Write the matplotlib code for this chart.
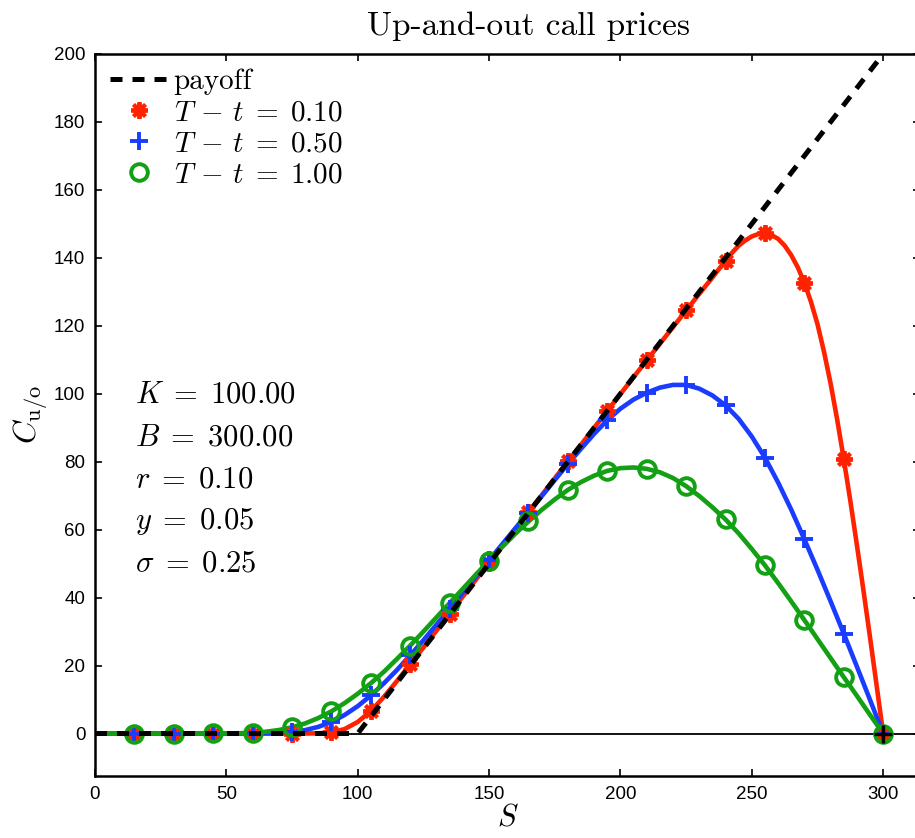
import matplotlib
matplotlib.use("Agg")
import matplotlib.pyplot as plt
import numpy as np

plt.rcParams['mathtext.fontset'] = 'cm'

#%% DATA
S = np.arange(0, 301, 5)
S_red = np.concatenate([np.arange(0, 240, 5), np.arange(240, 300.1, 2.5)])

# T - t = 0.10 (finer step past S = 240)
C_010 = [0, 0, 0, 0, 0, 0, 0, 0, 0, 0, 0, 0, 0, 0, 0, 0.0, 0.01, 0.06,
         0.35, 1.3, 3.4, 6.6, 10.8, 15.5, 20.4, 25.3, 30.3, 35.3, 40.3, 45.3,
         50.3, 55.2, 60.2, 65.2, 70.1, 75.1, 80.1, 85.0, 90.0, 95.0, 99.9,
         104.9, 109.8, 114.7, 119.6, 124.5, 129.4, 134.2,
         139.2, 141.5, 143.6, 145.1, 146.3, 147.0, 147.2, 146.7, 145.6, 143.6,
         140.8, 137.2, 132.7, 127.1, 120.5, 112.3, 103.0, 92.4, 80.8, 68.5,
         55.5, 42.1, 28.3, 14.2, 0]
# T - t = 0.50
C_050 = [0, 0, 0, 0, 0, 0, 0, 0, 0, 0, 0, 0, 0.01, 0.05, 0.17, 0.44, 1.0,
         1.96, 3.4, 5.45, 8.05, 11.2, 14.8, 18.75, 23.0, 27.45, 32.05, 36.7,
         41.4, 46.2, 51.0, 55.7, 60.4, 65.0, 69.8, 74.6, 79.3, 83.8, 88.2,
         92.2, 95.6, 98.3, 100.3, 101.8, 102.6, 102.6, 101.5, 99.5, 96.6, 92.6,
         87.4, 81.2, 73.9, 65.9, 57.2, 48.2, 38.9, 29.4, 19.7, 9.9, 0]
# T - t = 1.00
C_100 = [0, 0, 0, 0, 0, 0, 0, 0, 0, 0.02, 0.03, 0.09, 0.23, 0.52, 1.03,
         1.83, 2.98, 4.55, 6.54, 8.94, 11.7, 14.8, 18.2, 22.0, 25.9, 30.0,
         34.2, 38.4, 42.6, 46.8, 50.9, 54.9, 58.8, 62.4, 65.8, 68.9, 71.7,
         74.0, 75.9, 77.3, 78.1, 78.3, 77.9, 76.9, 75.2, 72.8, 69.9, 66.6,
         63.0, 58.9, 54.3, 49.5, 44.3, 38.9, 33.4, 27.8, 22.2, 16.6, 11.1,
         5.5, 0]

# marker points every 15
S_mk = np.arange(15, 301, 15)
mk_010 = [0, 0, 0, 0, 0.0, 0.35, 6.6, 20.4, 35.3, 50.3, 65.2, 80.1, 95.0,
          109.8, 124.5, 139.2, 147.2, 132.7, 80.8, 0]
mk_050 = [0, 0, 0, 0.01, 0.44, 3.4, 11.2, 23.0, 36.7, 51.0, 65.0, 79.3, 92.2,
          100.3, 102.6, 96.6, 81.2, 57.2, 29.4, 0]
mk_100 = [0, 0, 0.02, 0.23, 1.83, 6.54, 14.8, 25.9, 38.4, 50.9, 62.4, 71.7,
          77.3, 77.9, 72.8, 63.0, 49.5, 33.4, 16.6, 0]

payoff_S = [0, 100, 300]
payoff_V = [0, 0, 200]

params = [r'$K\;=\;100.00$', r'$B\;=\;300.00$', r'$r\;=\;0.10$',
          r'$y\;=\;0.05$', r'$\sigma\;=\;0.25$']

series = [(S_red, C_010, mk_010, '#ff2200', (8, 2, 0), 12, r'$T\,-\,t\;=\;0.10$'),
          (S, C_050, mk_050, '#1a3cff', '+', 13, r'$T\,-\,t\;=\;0.50$'),
          (S, C_100, mk_100, '#14a014', 'o', 12, r'$T\,-\,t\;=\;1.00$')]

#%% FIGURE
fig = plt.figure(figsize=(9.15, 8.38), dpi=100)
ax = fig.add_axes([0.1038, 0.074, 0.9016, 0.8616])

ax.axhline(0, color='black', lw=1.3, zorder=1)

handles = []
for xs, vals, mks, col, mk, ms, lab in series:
    ax.plot(xs, vals, '-', color=col, lw=3.3, zorder=2)
    h, = ax.plot(S_mk, mks, linestyle='none', marker=mk, ms=ms,
                 mec=col, mfc='none', mew=2.8, color=col, label=lab, zorder=3)
    handles.append(h)

pay, = ax.plot(payoff_S, payoff_V, '--', color='black', lw=3.6,
               dashes=(2.4, 2.0), label='payoff', zorder=4)
ax.plot(300, 0, '+', color='black', ms=13, mew=2.4, zorder=5)

ax.legend(handles=[pay] + handles, loc='upper left', frameon=False,
          prop={'family': 'cmr10', 'size': 21}, handlelength=2.0,
          handletextpad=0.2, labelspacing=0.16, borderaxespad=0.3,
          borderpad=0.2)

for i, p in enumerate(params):
    ax.text(0.0485, 0.5166 - i * 0.0583, p, transform=ax.transAxes,
            fontsize=22, va='baseline', ha='left')

ax.set_xlim(0, 314)
ax.set_ylim(-12.5, 200)
ax.set_xticks(np.arange(0, 301, 50))
ax.set_yticks(np.arange(0, 201, 20))
ax.tick_params(direction='in', top=True, right=True, length=5, width=1.2,
               labelsize=13.5, pad=7)
for lbl in ax.get_xticklabels() + ax.get_yticklabels():
    lbl.set_family('Liberation Sans')
for sp in ax.spines.values():
    sp.set_linewidth(1.8)

ax.set_title('Up-and-out call prices', fontfamily='cmr10', fontsize=24,
             x=0.526, pad=14)
ax.set_xlabel(r'$S$', fontsize=22, labelpad=0)
ax.set_ylabel(r'$C_{\mathrm{u/o}}$', fontsize=23, labelpad=3)

fig.savefig('out.png', dpi=100)
